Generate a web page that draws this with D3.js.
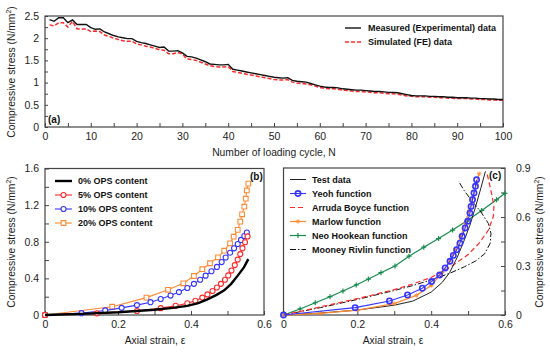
<!DOCTYPE html>
<html>
<head>
<meta charset="utf-8">
<style>
  body { margin: 0; background: #fff; }
  svg { font-family: 'Liberation Sans', Arial, sans-serif; }
  .tick text { font-size: 10.5px; fill: #222; }
  .tick line { stroke: #444; }
  .domain { display: none; }
  .frame { fill: none; stroke: #444; stroke-width: 1.2; }
  .title { font-size: 10.3px; fill: #222; }
  .leg { font-size: 9px; font-weight: bold; fill: #111; }
  .panel { font-size: 10px; font-weight: bold; fill: #111; }
</style>
</head>
<body>
<svg width="550" height="353"></svg>
<script src="https://d3js.org/d3.v7.min.js"></script>
<script>
// ---- panel (a): stress vs loading cycle (N = 1..100)
let measured = [2.42, 2.38, 2.46, 2.46, 2.35, 2.41, 2.31, 2.31, 2.31, 2.24,
  2.2, 2.21, 2.14, 2.1, 2.06, 2.03, 2.01, 1.99, 1.99, 1.93,
  1.9, 1.88, 1.85, 1.82, 1.79, 1.8, 1.71, 1.71, 1.72, 1.67,
  1.59, 1.58, 1.55, 1.51, 1.47, 1.42, 1.41, 1.4, 1.4, 1.41,
  1.3, 1.28, 1.26, 1.24, 1.22, 1.2, 1.18, 1.16, 1.14, 1.12,
  1.11, 1.1, 1.11, 1.05, 1.03, 1.02, 1.01, 0.98, 0.95, 0.92,
  0.9, 0.89, 0.89, 0.88, 0.86, 0.85, 0.84, 0.83, 0.83, 0.82,
  0.81, 0.8, 0.8, 0.79, 0.78, 0.78, 0.77, 0.75, 0.73, 0.71,
  0.7, 0.7, 0.7, 0.69, 0.69, 0.68, 0.68, 0.67, 0.67, 0.66,
  0.66, 0.66, 0.65, 0.65, 0.64, 0.64, 0.63, 0.63, 0.62, 0.62]
let simulated = [2.3, 2.28, 2.35, 2.35, 2.25, 2.38, 2.21, 2.21, 2.21, 2.15,
  2.16, 2.15, 2.07, 2.04, 2.0, 1.97, 1.94, 1.93, 1.93, 1.87,
  1.85, 1.82, 1.8, 1.77, 1.74, 1.73, 1.65, 1.65, 1.68, 1.64,
  1.53, 1.52, 1.5, 1.46, 1.42, 1.38, 1.36, 1.35, 1.35, 1.36,
  1.25, 1.23, 1.21, 1.19, 1.17, 1.15, 1.13, 1.11, 1.09, 1.07,
  1.06, 1.06, 1.07, 1.01, 0.99, 0.98, 0.97, 0.95, 0.92, 0.89,
  0.87, 0.86, 0.86, 0.85, 0.83, 0.82, 0.81, 0.8, 0.8, 0.79,
  0.78, 0.77, 0.77, 0.76, 0.75, 0.75, 0.74, 0.72, 0.7, 0.69,
  0.68, 0.68, 0.68, 0.67, 0.67, 0.66, 0.66, 0.65, 0.65, 0.64,
  0.64, 0.64, 0.63, 0.63, 0.62, 0.62, 0.61, 0.61, 0.6, 0.6]

// ---- panel (b): OPS content curves [strain, stress]
let ops0 = [[0, 0], [0.1, 0.012], [0.2, 0.03], [0.3, 0.058], [0.35, 0.078], [0.39, 0.1],
  [0.42, 0.13], [0.445, 0.17], [0.47, 0.22], [0.491, 0.27], [0.51, 0.34], [0.528, 0.43],
  [0.545, 0.52], [0.557, 0.61]]
let ops5 = [[0, 0], [0.142, 0.018], [0.252, 0.044], [0.317, 0.075], [0.358, 0.1], [0.39, 0.128],
  [0.412, 0.155], [0.431, 0.19], [0.445, 0.225], [0.459, 0.262], [0.471, 0.3], [0.482, 0.34],
  [0.493, 0.385], [0.502, 0.432], [0.511, 0.485], [0.52, 0.545], [0.528, 0.605], [0.535, 0.665],
  [0.541, 0.73], [0.548, 0.795], [0.555, 0.858]]
let ops10 = [[0, 0], [0.1, 0.02], [0.165, 0.05], [0.21, 0.078], [0.252, 0.108], [0.289, 0.14],
  [0.317, 0.175], [0.344, 0.212], [0.367, 0.25], [0.39, 0.295], [0.408, 0.34], [0.425, 0.385],
  [0.44, 0.43], [0.456, 0.478], [0.471, 0.525], [0.484, 0.578], [0.495, 0.628], [0.507, 0.68],
  [0.518, 0.728], [0.528, 0.775], [0.537, 0.82], [0.546, 0.862], [0.553, 0.9]]
let ops20 = [[0, 0], [0.184, 0.09], [0.278, 0.19], [0.337, 0.275], [0.379, 0.346], [0.408, 0.426],
  [0.431, 0.5], [0.452, 0.565], [0.474, 0.63], [0.491, 0.702], [0.507, 0.783], [0.517, 0.855],
  [0.528, 0.93], [0.535, 1.02], [0.54, 1.1], [0.546, 1.183], [0.55, 1.27], [0.553, 1.36], [0.557, 1.435]]

// ---- panel (c): hyperelastic model fits [strain, stress]
let testData = [[0, 0], [0.1, 0.012], [0.2, 0.03], [0.3, 0.06], [0.35, 0.085], [0.4, 0.14],
  [0.43, 0.2], [0.45, 0.26], [0.47, 0.35], [0.49, 0.46], [0.505, 0.55], [0.52, 0.66],
  [0.535, 0.78], [0.547, 0.88]]
let yeoh = [[0, 0], [0.194, 0.045], [0.287, 0.086], [0.336, 0.123], [0.376, 0.164], [0.401, 0.205],
  [0.423, 0.245], [0.438, 0.288], [0.451, 0.329], [0.46, 0.365], [0.469, 0.4], [0.478, 0.44],
  [0.484, 0.482], [0.492, 0.533], [0.499, 0.574], [0.505, 0.624], [0.508, 0.665], [0.512, 0.706],
  [0.516, 0.747], [0.52, 0.788], [0.523, 0.828]]
let arrudaBoyce = [[0, 0], [0.1, 0.05], [0.2, 0.1], [0.3, 0.155], [0.35, 0.19], [0.4, 0.23],
  [0.45, 0.29], [0.5, 0.37], [0.53, 0.44], [0.555, 0.52], [0.568, 0.6], [0.57, 0.66],
  [0.565, 0.73], [0.558, 0.8], [0.552, 0.86]]
let marlow = [[0, 0], [0.1, 0.01], [0.2, 0.03], [0.3, 0.07], [0.36, 0.12], [0.4, 0.18],
  [0.43, 0.26], [0.45, 0.33], [0.465, 0.4], [0.48, 0.48], [0.492, 0.56], [0.503, 0.64],
  [0.513, 0.72], [0.522, 0.8], [0.53, 0.865]]
let neoHookean = [[0, 0], [0.045, 0.037], [0.086, 0.075], [0.126, 0.112], [0.161, 0.147],
  [0.197, 0.184], [0.23, 0.22], [0.264, 0.259], [0.302, 0.3], [0.34, 0.36], [0.38, 0.415],
  [0.42, 0.468], [0.458, 0.52], [0.496, 0.575], [0.537, 0.64], [0.577, 0.705], [0.6, 0.745]]
let mooneyRivlin = [[0, 0], [0.1, 0.045], [0.2, 0.095], [0.3, 0.15], [0.35, 0.18], [0.4, 0.215],
  [0.45, 0.255], [0.49, 0.295], [0.52, 0.33], [0.545, 0.375], [0.56, 0.44], [0.562, 0.5],
  [0.555, 0.56], [0.535, 0.63], [0.51, 0.7], [0.49, 0.76], [0.474, 0.82]]

let svg = d3.select("svg")

const RED = "#ff2a2a", BLUE = "#3535ff", ORANGE = "#ff8a33", GREEN = "#168a4c"

function frame(x0, x1, y0, y1) {
    svg.append("rect").attr("class", "frame")
        .attr("x", x0).attr("y", y0)
        .attr("width", x1 - x0).attr("height", y1 - y0)
}

function fmtLabels(labels) {
    return d => labels.some(v => Math.abs(v - d) < 1e-9) ? d3.format("~g")(d) : ""
}

// ================= panel (a)
let xa = d3.scaleLinear().domain([0, 100]).range([45, 503])
let ya = d3.scaleLinear().domain([0, 2.5]).range([127, 16])

svg.append("g").attr("class", "x axis")
    .attr("transform", "translate(0,127)")
    .call(d3.axisBottom(xa).tickValues(d3.range(0, 101, 5)).tickSize(-4).tickPadding(6)
        .tickFormat(fmtLabels(d3.range(0, 101, 10))))

svg.append("g").attr("class", "y axis")
    .attr("transform", "translate(45,0)")
    .call(d3.axisLeft(ya).tickValues(d3.range(0, 2.51, 0.25)).tickSize(-3).tickPadding(6)
        .tickFormat(fmtLabels([0, 0.5, 1, 1.5, 2, 2.5])))

frame(45, 503, 16, 127)

let lineA = d3.line().x((d, i) => xa(i + 1)).y(d => ya(d))

svg.append("path").attr("d", lineA(simulated))
    .attr("fill", "none").attr("stroke", RED).attr("stroke-width", 1.5).attr("stroke-dasharray", "4,2")
svg.append("path").attr("d", lineA(measured))
    .attr("fill", "none").attr("stroke", "#111").attr("stroke-width", 1.4)

svg.append("line").attr("x1", 345).attr("x2", 361).attr("y1", 28).attr("y2", 28)
    .attr("stroke", "#111").attr("stroke-width", 1.4)
svg.append("text").attr("class", "leg").attr("x", 368).attr("y", 31).text("Measured (Experimental) data")
svg.append("line").attr("x1", 345).attr("x2", 361).attr("y1", 42).attr("y2", 42)
    .attr("stroke", RED).attr("stroke-width", 1.5).attr("stroke-dasharray", "4,2")
svg.append("text").attr("class", "leg").attr("x", 368).attr("y", 45).text("Simulated (FE) data")

svg.append("text").attr("class", "panel").attr("x", 48).attr("y", 123).text("(a)")

svg.append("text").attr("class", "title").attr("text-anchor", "middle")
    .attr("x", 274).attr("y", 156).text("Number of loading cycle, N")

function yTitle(x, y, rot) {
    let t = svg.append("text").attr("class", "title").attr("text-anchor", "middle")
        .attr("transform", `translate(${x},${y}) rotate(${rot})`)
    t.append("tspan").text("Compressive stress (N/mm")
    t.append("tspan").attr("dy", -4).attr("font-size", "7px").text("2")
    t.append("tspan").attr("dy", 4).text(")")
}
yTitle(15, 72, -90)

// ================= panel (b)
let xb = d3.scaleLinear().domain([0, 0.6]).range([45, 264])
let yb = d3.scaleLinear().domain([0, 1.6]).range([315, 168.5])

svg.append("g").attr("class", "x axis")
    .attr("transform", "translate(0,315)")
    .call(d3.axisBottom(xb).tickValues(d3.range(0, 0.61, 0.1)).tickSize(-4).tickPadding(6)
        .tickFormat(fmtLabels([0, 0.2, 0.4, 0.6])))
svg.append("g").attr("class", "y axis")
    .attr("transform", "translate(45,0)")
    .call(d3.axisLeft(yb).tickValues(d3.range(0, 1.61, 0.2)).tickSize(-4).tickPadding(6)
        .tickFormat(fmtLabels([0, 0.4, 0.8, 1.2, 1.6])))
frame(45, 264, 168.5, 315)

let lineB = d3.line().x(d => xb(d[0])).y(d => yb(d[1]))

function series(data, line, xs, ys, color, width, marker, dash) {
    let g = svg.append("g")
    g.append("path").attr("d", line(data)).attr("fill", "none")
        .attr("stroke", color).attr("stroke-width", width)
        .attr("stroke-dasharray", dash || null)
    if (marker) {
        g.selectAll("path.m").data(data).join("path").attr("class", "m")
            .attr("transform", d => `translate(${xs(d[0])},${ys(d[1])})`)
            .attr("d", marker.d).attr("fill", marker.fill)
            .attr("stroke", color).attr("stroke-width", marker.sw)
    }
}

let circ = { d: d3.symbol(d3.symbolCircle, 20)(), fill: "#fff", sw: 1.1 }
let sq = { d: d3.symbol(d3.symbolSquare, 22)(), fill: "#fff", sw: 1.1 }
let plus = { d: "M-2.5,0H2.5M0,-2.5V2.5", fill: "none", sw: 1.2 }
let star = { d: "M-2.2,0H2.2M0,-2.2V2.2M-1.5,-1.5L1.5,1.5M-1.5,1.5L1.5,-1.5", fill: "none", sw: 0.9 }
let ring = { d: d3.symbol(d3.symbolCircle, 22)(), fill: "none", sw: 1.6 }

series(ops20, lineB, xb, yb, ORANGE, 1.1, sq)
series(ops10, lineB, xb, yb, BLUE, 1.1, circ)
series(ops5, lineB, xb, yb, RED, 1.1, circ)
series(ops0, lineB, xb, yb, "#000", 2.4)

let legB = [["0% OPS content", "#000", null, 2.4], ["5% OPS content", RED, circ, 1.1],
    ["10% OPS content", BLUE, circ, 1.1], ["20% OPS content", ORANGE, sq, 1.1]]
legB.forEach((l, i) => {
    let y = 181 + i * 14
    svg.append("line").attr("x1", 55).attr("x2", 72).attr("y1", y).attr("y2", y)
        .attr("stroke", l[1]).attr("stroke-width", l[3])
    if (l[2]) svg.append("path").attr("d", l[2].d).attr("transform", `translate(63.5,${y})`)
        .attr("fill", l[2].fill).attr("stroke", l[1]).attr("stroke-width", l[2].sw)
    svg.append("text").attr("class", "leg").attr("x", 78).attr("y", y + 3).text(l[0])
})
svg.append("text").attr("class", "panel").attr("x", 250).attr("y", 180).text("(b)")
svg.append("text").attr("class", "title").attr("text-anchor", "middle")
    .attr("x", 155).attr("y", 344).text("Axial strain, ε")
yTitle(15, 242, -90)

// ================= panel (c)
let xc = d3.scaleLinear().domain([0, 0.6]).range([283.5, 505])
let yc = d3.scaleLinear().domain([0, 0.9]).range([315, 168])

svg.append("g").attr("class", "x axis")
    .attr("transform", "translate(0,315)")
    .call(d3.axisBottom(xc).tickValues(d3.range(0, 0.61, 0.1)).tickSize(-4).tickPadding(6)
        .tickFormat(fmtLabels([0, 0.2, 0.4, 0.6])))
svg.append("g").attr("class", "y axis")
    .attr("transform", "translate(505,0)")
    .call(d3.axisRight(yc).tickValues(d3.range(0, 0.91, 0.15)).tickSize(-4).tickPadding(11)
        .tickFormat(fmtLabels([0, 0.3, 0.6, 0.9])))
frame(283.5, 505, 168, 315)

let lineC = d3.line().x(d => xc(d[0])).y(d => yc(d[1]))
let clip = svg.append("clipPath").attr("id", "clipc").append("rect")
    .attr("x", 283.5).attr("y", 168).attr("width", 221.5).attr("height", 147)

series(neoHookean, lineC, xc, yc, GREEN, 1.2, plus)
series(mooneyRivlin, lineC, xc, yc, "#111", 1, null, "6,2,1.5,2")
series(arrudaBoyce, lineC, xc, yc, RED, 1.2, null, "5,3")
series(testData, lineC, xc, yc, "#222", 1)
series(marlow, lineC, xc, yc, ORANGE, 1.3, star)
series(yeoh, lineC, xc, yc, BLUE, 1.1, ring)

let legC = [["Test data", "#222", null, 1, null], ["Yeoh function", BLUE, ring, 1.1, null],
    ["Arruda Boyce function", RED, null, 1.2, "5,3"], ["Marlow function", ORANGE, star, 1.3, null],
    ["Neo Hookean function", GREEN, plus, 1.2, null], ["Mooney Rivlin function", "#111", null, 1, "6,2,1.5,2"]]
legC.forEach((l, i) => {
    let y = 179.5 + i * 14
    svg.append("line").attr("x1", 290).attr("x2", 306).attr("y1", y).attr("y2", y)
        .attr("stroke", l[1]).attr("stroke-width", l[3]).attr("stroke-dasharray", l[4])
    if (l[2]) svg.append("path").attr("d", l[2].d).attr("transform", `translate(298,${y})`)
        .attr("fill", l[2].fill).attr("stroke", l[1]).attr("stroke-width", l[2].sw)
    svg.append("text").attr("class", "leg").attr("x", 312).attr("y", y + 3).text(l[0])
})
svg.append("text").attr("class", "panel").attr("x", 489).attr("y", 179).text("(c)")
svg.append("text").attr("class", "title").attr("text-anchor", "middle")
    .attr("x", 393).attr("y", 344).text("Axial strain, ε")
yTitle(543, 242, -90)
</script>
</body>
</html>
